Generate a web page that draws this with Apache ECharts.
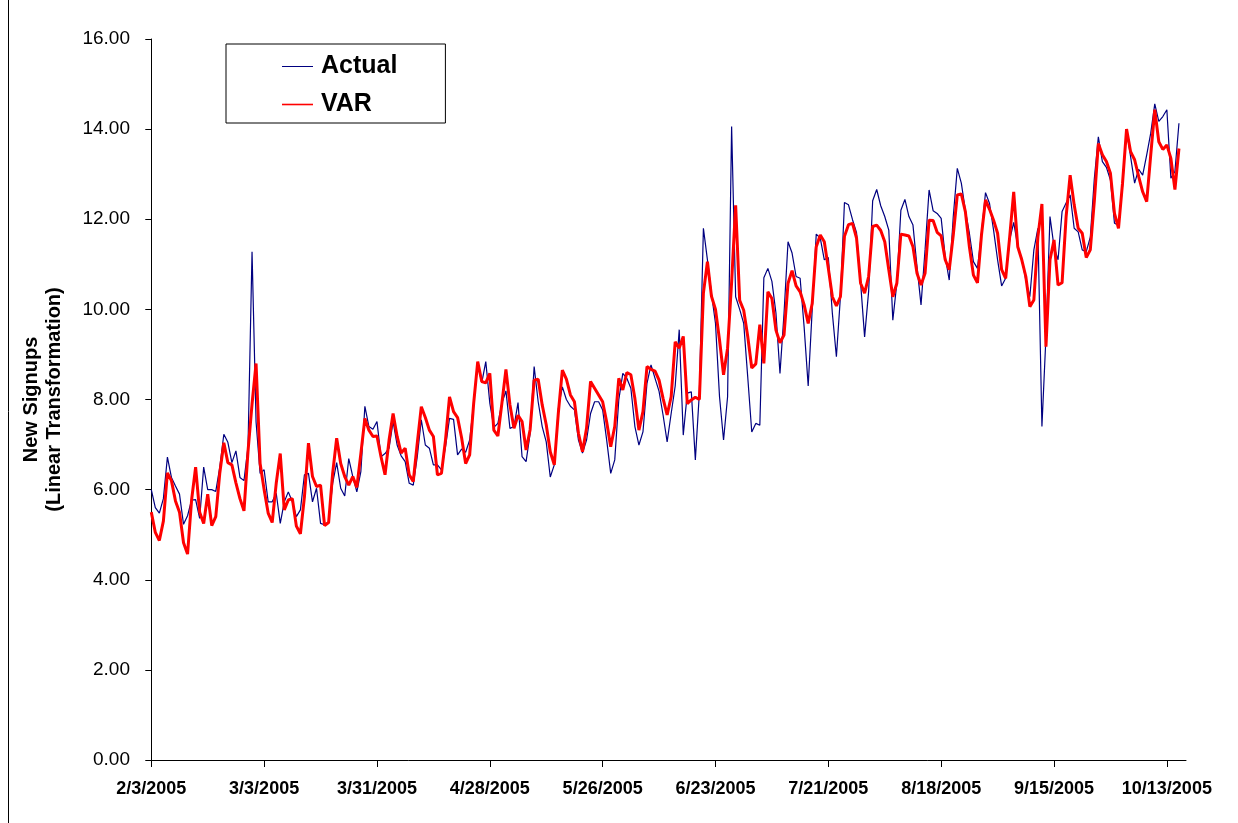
<!DOCTYPE html>
<html>
<head>
<meta charset="utf-8">
<script src="https://cdn.jsdelivr.net/npm/echarts@6/dist/echarts.min.js"></script>
<style>
html,body{margin:0;padding:0;background:#fff;}
#chart{width:1238px;height:823px;}
</style>
</head>
<body>
<div id="chart"></div>
<script>
// Tick labels (every 28 days from 2/3/2005)
const tickLabels = ['2/3/2005','3/3/2005','3/31/2005','4/28/2005','5/26/2005','6/23/2005','7/21/2005','8/18/2005','9/15/2005','10/13/2005'];
const tickStep = 28; // days between labels

// Daily values, day 0 = 2/3/2005
const actual = [
6.0,5.6,5.48,5.8,6.72,6.27,6.08,5.9,5.23,5.42,
5.77,5.78,5.36,6.5,6.0,6.0,5.96,6.5,7.23,7.05,
6.6,6.86,6.27,6.2,6.95,11.28,7.5,6.36,6.44,5.73,
5.73,5.92,5.25,5.73,5.95,5.73,5.4,5.55,6.33,6.36,
5.73,6.03,5.25,5.22,5.29,6.14,6.6,6.03,5.86,6.69,
6.29,5.95,6.4,7.85,7.4,7.34,7.51,6.73,6.8,6.92,
7.51,6.99,6.75,6.62,6.14,6.1,6.73,7.55,6.99,6.92,
6.55,6.55,6.44,6.95,7.58,7.56,6.77,6.9,6.83,7.1,
7.92,8.8,8.37,8.84,7.92,7.38,7.47,7.92,8.19,7.36,
7.4,7.93,6.73,6.62,7.25,8.73,7.95,7.4,7.06,6.28,
6.55,7.8,8.28,8.0,7.85,7.77,7.1,6.81,7.1,7.69,
7.95,7.95,7.77,7.1,6.36,6.66,7.99,8.58,8.47,8.25,
7.4,6.99,7.28,8.36,8.77,8.47,8.18,7.65,7.06,7.69,
8.3,9.55,7.21,8.14,8.17,6.66,8.15,11.8,11.1,10.35,
9.69,8.06,7.1,8.06,14.06,10.28,10.0,9.69,8.5,7.28,
7.47,7.43,10.7,10.91,10.62,9.92,8.58,9.9,11.5,11.25,
10.73,10.69,9.6,8.3,10.0,11.67,11.58,11.1,11.15,9.91,
8.95,10.28,12.37,12.32,11.99,11.7,10.6,9.39,10.4,12.41,
12.66,12.3,12.06,11.76,9.76,10.58,12.2,12.44,12.06,11.87,
10.95,10.1,11.32,12.65,12.19,12.13,12.02,11.17,10.65,12.06,
13.13,12.8,12.2,11.69,11.06,10.91,11.69,12.59,12.35,11.76,
11.1,10.52,10.69,11.54,11.93,11.39,11.13,10.65,10.28,11.32,
11.8,7.4,9.4,12.06,11.39,11.1,12.17,12.36,12.54,11.8,
11.72,11.32,11.28,11.6,12.9,13.83,13.28,13.15,12.87,11.91,
11.87,12.73,13.98,13.39,12.8,13.11,12.98,13.43,13.91,14.56,
14.17,14.28,14.43,12.91,13.06,14.13
];
const varFit = [
5.5,5.05,4.87,5.3,6.37,6.2,5.75,5.5,4.82,4.57,
5.77,6.5,5.5,5.25,5.9,5.2,5.4,6.37,7.04,6.6,
6.55,6.15,5.8,5.53,6.85,7.9,8.8,6.58,6.0,5.48,
5.27,6.14,6.8,5.55,5.77,5.8,5.19,5.02,5.84,7.03,
6.29,6.07,6.1,5.2,5.27,6.36,7.14,6.58,6.29,6.1,
6.29,6.05,6.8,7.58,7.32,7.18,7.19,6.73,6.33,7.1,
7.69,7.18,6.81,6.92,6.33,6.18,7.03,7.84,7.6,7.32,
7.18,6.33,6.36,7.1,8.06,7.73,7.6,7.15,6.58,6.77,
7.92,8.84,8.4,8.37,8.58,7.32,7.19,7.92,8.67,7.88,
7.36,7.65,7.51,6.88,7.33,8.43,8.45,7.88,7.44,6.84,
6.55,7.7,8.65,8.45,8.1,7.95,7.25,6.84,7.36,8.4,
8.25,8.1,7.95,7.5,6.95,7.4,8.47,8.21,8.6,8.55,
8.02,7.32,7.73,8.73,8.67,8.63,8.43,8.02,7.66,8.06,
9.28,9.14,9.4,7.91,7.99,8.05,8.0,10.36,11.06,10.29,
10.0,9.32,8.55,9.14,10.6,12.31,10.2,9.98,9.4,8.7,
8.79,9.66,8.8,10.39,10.24,9.54,9.26,9.43,10.58,10.86,
10.52,10.39,10.1,9.69,10.13,11.39,11.65,11.5,10.91,10.28,
10.08,10.28,11.62,11.88,11.91,11.58,10.58,10.36,10.73,11.84,
11.87,11.75,11.5,10.88,10.28,10.58,11.67,11.65,11.63,11.39,
10.8,10.54,10.8,11.98,11.97,11.71,11.63,11.1,10.88,11.65,
12.54,12.56,12.17,11.39,10.76,10.59,11.65,12.43,12.22,11.98,
11.69,10.88,10.69,11.61,12.61,11.39,11.1,10.73,10.06,10.21,
11.61,12.34,9.17,11.1,11.54,10.54,10.59,12.06,12.98,12.32,
11.8,11.69,11.15,11.32,12.4,13.68,13.43,13.28,13.02,12.13,
11.8,12.8,14.0,13.5,13.32,12.95,12.61,12.39,13.43,14.43,
13.72,13.55,13.65,13.35,12.66,13.57
];

const tickDays = tickLabels.map((_, i) => i * tickStep);
const labelByDay = {};
tickDays.forEach((d, i) => { labelByDay[d] = tickLabels[i]; });
const actualPts = actual.map((v, i) => [i, v]);
const varPts = varFit.map((v, i) => [i, v]);

const FONT = '"Liberation Sans", Arial, sans-serif';
const chart = echarts.init(document.getElementById('chart'), null, {renderer: 'canvas'});
chart.setOption({
  animation: false,
  backgroundColor: '#ffffff',
  grid: {left: 150, right: 52, top: 39, bottom: 63, containLabel: false},
  legend: {
    left: 226, top: 44,
    orient: 'vertical',
    padding: [10, 48, 6, 56],
    itemGap: 13,
    itemWidth: 31, itemHeight: 12,
    backgroundColor: '#ffffff',
    borderColor: '#000000', borderWidth: 1,
    borderRadius: 0,
    textStyle: {fontFamily: FONT, fontSize: 25, fontWeight: 'bold', color: '#000', padding: [0,0,0,3]},
    data: [
      {name: 'Actual', icon: 'path://M0,0 L31,0 L31,1 L0,1 Z', itemStyle: {color: '#000080'}},
      {name: 'VAR', icon: 'path://M0,0 L31,0 L31,1.6 L0,1.6 Z', itemStyle: {color: '#ff0000'}}
    ]
  },
  xAxis: {
    type: 'value',
    min: -0.32, max: 256.75,
    axisLine: {show: true, onZero: false, lineStyle: {color: '#000', width: 1}},
    axisTick: {show: true, inside: false, length: 7, lineStyle: {color: '#000'}, customValues: tickDays},
    axisLabel: {
      show: true, customValues: tickDays, margin: 20,
      fontFamily: FONT, fontSize: 18, fontWeight: 'bold', color: '#000',
      formatter: function (v) { return labelByDay[Math.round(v)] || ''; }
    },
    splitLine: {show: false}
  },
  yAxis: {
    type: 'value',
    min: 0, max: 16, interval: 2,
    name: 'New Signups\n(Linear Transformation)',
    nameLocation: 'middle', nameRotate: 90, nameGap: 84,
    nameTextStyle: {fontFamily: FONT, fontSize: 20, fontWeight: 'bold', color: '#000', lineHeight: 23},
    axisLine: {show: true, lineStyle: {color: '#000', width: 1}},
    axisTick: {show: true, inside: false, length: 6, lineStyle: {color: '#000'}},
    axisLabel: {
      margin: 20, fontFamily: FONT, fontSize: 19, color: '#000',
      formatter: function (v) { return v.toFixed(2); }
    },
    splitLine: {show: false}
  },
  graphic: [
    {type: 'line', shape: {x1: 8.5, y1: 0, x2: 8.5, y2: 823}, style: {stroke: '#000', lineWidth: 1}, silent: true}
  ],
  series: [
    {name: 'Actual', type: 'line', data: actualPts, symbol: 'none', showSymbol: false,
     lineStyle: {color: '#000080', width: 1.2}, itemStyle: {color: '#000080'}, z: 2},
    {name: 'VAR', type: 'line', data: varPts, symbol: 'none', showSymbol: false,
     lineStyle: {color: '#ff0000', width: 3}, itemStyle: {color: '#ff0000'}, z: 3}
  ]
});
</script>
</body>
</html>
